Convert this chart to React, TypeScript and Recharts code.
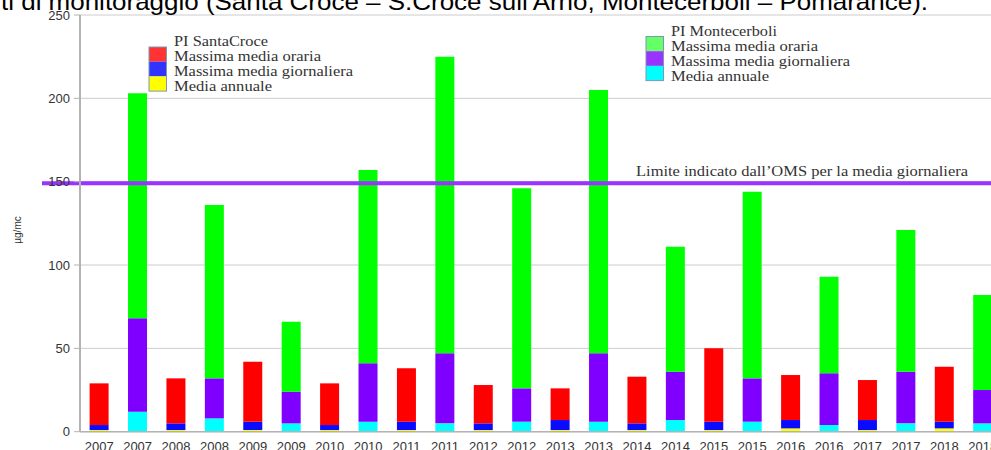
import React from "react";
import { BarChart, Bar, XAxis, YAxis, CartesianGrid, ReferenceLine } from "recharts";

// anni: ogni anno ha due barre (SantaCroce, poi Montecerboli)
const years = ["2007", "2008", "2009", "2010", "2011", "2012", "2013", "2014", "2015", "2016", "2017", "2018"];

// PI SantaCroce (µg/mc)
const scOraria = [29, 32, 42, 29, 38, 28, 26, 33, 50, 34, 31, 39];
const scGiornaliera = [4, 5, 6, 4, 6, 5, 7, 5, 6, 7, 7, 6];
const scAnnuale = [1, 1, 1, 1, 1, 1, 1, 1, 1, 2, 1, 2];

// PI Montecerboli (µg/mc)
const mcOraria = [203, 136, 66, 157, 225, 146, 205, 111, 144, 93, 121, 82];
const mcGiornaliera = [68, 32, 24, 41, 47, 26, 47, 36, 32, 35, 36, 25];
const mcAnnuale = [12, 8, 5, 6, 5, 6, 6, 7, 6, 4, 5, 5];

const yTicks = [0, 50, 100, 150, 200, 250];
const limiteOMS = 149;

const colors = {
    scOra: "#ff0000",
    scGio: "#0a0aff",
    scAnn: "#ffff00",
    mcOra: "#00ff00",
    mcGio: "#7f00ff",
    mcAnn: "#00ffff",
};

// barre sovrapposte -> impilate per differenza
const rows = years.flatMap((y, i) => [
    {
        label: y,
        scAnn: scAnnuale[i],
        scGio: scGiornaliera[i] - scAnnuale[i],
        scOra: scOraria[i] - scGiornaliera[i],
        mcAnn: 0,
        mcGio: 0,
        mcOra: 0,
    },
    {
        label: y,
        scAnn: 0,
        scGio: 0,
        scOra: 0,
        mcAnn: mcAnnuale[i],
        mcGio: mcGiornaliera[i] - mcAnnuale[i],
        mcOra: mcOraria[i] - mcGiornaliera[i],
    },
]);
const edgeTicks = rows.map((_, i) => i).concat(rows.length);

const LimitLine = (props: any) => {
    const { x1, y1, x2, y2 } = props;
    return <line x1={x1 - 38} y1={y1} x2={x2} y2={y2} stroke="#9933ff" strokeWidth={4} />;
};

const serif = "'Liberation Serif', 'Times New Roman', serif";
const sans = "'Liberation Sans', Arial, sans-serif";

const LegendBox = ({ x, y, title, titleLen, items }: any) => (
    <g>
        <text x={x + 25} y={y} fontFamily={serif} fontSize={14} fill="#333" textLength={titleLen} lengthAdjust="spacingAndGlyphs">
            {title}
        </text>
        {items.map((it: any, i: number) => (
            <g key={i}>
                <rect x={x} y={y + 1 + i * 14.7} width={17.5} height={14.7} fill={it.color} />
                <text
                    x={x + 25}
                    y={y + 15 * (i + 1)}
                    fontFamily={serif}
                    fontSize={14}
                    fill="#333"
                    textLength={it.len}
                    lengthAdjust="spacingAndGlyphs"
                >
                    {it.name}
                </text>
            </g>
        ))}
        <rect x={x} y={y + 1} width={17.5} height={14.7 * 3} fill="none" stroke="#7d97b8" strokeWidth={1} />
    </g>
);

export default function App() {
    return (
        <div style={{ position: "absolute", left: 0, top: 0, width: 991, height: 450, overflow: "hidden", background: "#fff" }}>
            <BarChart width={1002} height={450} data={rows} margin={{ top: 15, right: 0, left: 0, bottom: 0 }} barCategoryGap="25%">
                <CartesianGrid vertical={false} stroke="#cccccc" />
                <XAxis
                    xAxisId="edges"
                    type="number"
                    domain={[0, rows.length]}
                    ticks={edgeTicks}
                    tick={false}
                    height={0}
                    tickSize={4}
                    axisLine={false}
                    tickLine={{ stroke: "#b3b3b3" }}
                />
                <XAxis
                    dataKey="label"
                    interval={0}
                    height={18.3}
                    tickLine={false}
                    tickSize={6}
                    tickMargin={4}
                    axisLine={{ stroke: "#b3b3b3", strokeWidth: 1.5 }}
                    tick={{ fontSize: 13, fill: "#333", fontFamily: sans }}
                />
                <YAxis
                    width={80}
                    domain={[0, 250]}
                    ticks={yTicks}
                    tickSize={6}
                    tickMargin={4}
                    axisLine={{ stroke: "#b3b3b3", strokeWidth: 2 }}
                    tickLine={{ stroke: "#b3b3b3" }}
                    tick={{ fontSize: 13, fill: "#333", fontFamily: sans }}
                />
                <Bar dataKey="scAnn" stackId="s" fill={colors.scAnn} isAnimationActive={false} />
                <Bar dataKey="scGio" stackId="s" fill={colors.scGio} isAnimationActive={false} />
                <Bar dataKey="scOra" stackId="s" fill={colors.scOra} isAnimationActive={false} />
                <Bar dataKey="mcAnn" stackId="s" fill={colors.mcAnn} isAnimationActive={false} />
                <Bar dataKey="mcGio" stackId="s" fill={colors.mcGio} isAnimationActive={false} />
                <Bar dataKey="mcOra" stackId="s" fill={colors.mcOra} isAnimationActive={false} />
                <ReferenceLine y={limiteOMS} shape={LimitLine} />
            </BarChart>
            <svg width={991} height={450} style={{ position: "absolute", left: 0, top: 0, pointerEvents: "none" }}>
                <text x={1} y={9.5} fontFamily={sans} fontSize={24} fill="#000" textLength={927} lengthAdjust="spacingAndGlyphs">
                    ti di monitoraggio (Santa Croce – S.Croce sull'Arno; Montecerboli – Pomarance).
                </text>
                <text
                    transform="translate(21,230) rotate(-90)"
                    textAnchor="middle"
                    fontFamily={sans}
                    fontSize={10}
                    fill="#333"
                >
                    µg/mc
                </text>
                <LegendBox
                    x={149}
                    y={46}
                    title="PI SantaCroce"
                    titleLen={94}
                    items={[
                        { name: "Massima media oraria", color: "#ff3333", len: 147 },
                        { name: "Massima media giornaliera", color: "#3333ff", len: 179 },
                        { name: "Media annuale", color: "#ffff00", len: 98 },
                    ]}
                />
                <LegendBox
                    x={646}
                    y={35.5}
                    title="PI Montecerboli"
                    titleLen={106}
                    items={[
                        { name: "Massima media oraria", color: "#66ff66", len: 147 },
                        { name: "Massima media giornaliera", color: "#9933ff", len: 179 },
                        { name: "Media annuale", color: "#00ffff", len: 98 },
                    ]}
                />
                <text x={636} y={176} fontFamily={serif} fontSize={14} fill="#333" textLength={332} lengthAdjust="spacingAndGlyphs">
                    Limite indicato dall’OMS per la media giornaliera
                </text>
            </svg>
        </div>
    );
}
